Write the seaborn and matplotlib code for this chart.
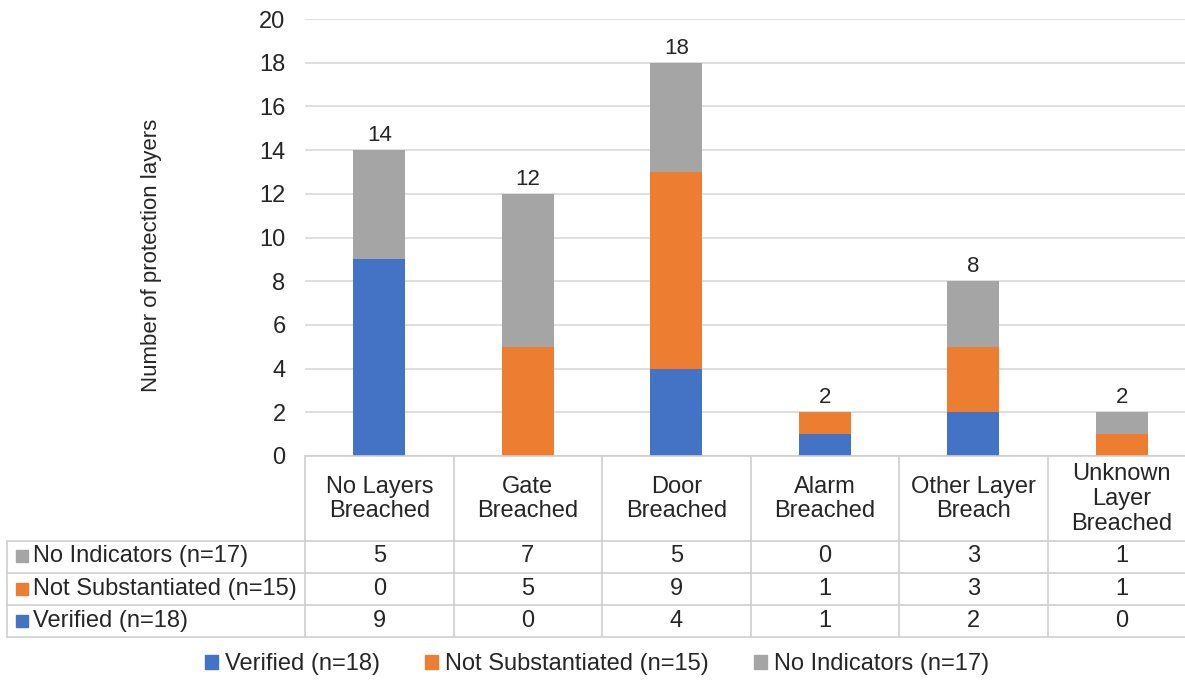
import matplotlib
matplotlib.use("Agg")
import matplotlib.pyplot as plt
import matplotlib.patches as mpatches
import matplotlib.transforms as mtransforms
from matplotlib.lines import Line2D
import pandas as pd
import seaborn as sns

categories = ["No Layers\nBreached", "Gate\nBreached", "Door\nBreached",
              "Alarm\nBreached", "Other Layer\nBreach", "Unknown\nLayer\nBreached"]
verified = [9, 0, 4, 1, 2, 0]
not_substantiated = [0, 5, 9, 1, 3, 1]
no_indicators = [5, 7, 5, 0, 3, 1]
series_names = ["Verified (n=18)", "Not Substantiated (n=15)", "No Indicators (n=17)"]
colors = ["#4472C4", "#ED7D31", "#A5A5A5"]
y_ticks = list(range(0, 21, 2))

W, H = 1185, 681

sns.set_style("white")
plt.rcParams['font.family'] = ['Liberation Sans', 'DejaVu Sans']
FS = 17
TXT = "#262626"
GRID = "#d9d9d9"

df = pd.DataFrame({"cat": categories, "v": verified, "ns": not_substantiated, "ni": no_indicators})
df["level2"] = df["v"] + df["ns"]
df["total"] = df["level2"] + df["ni"]

fig = plt.figure(figsize=(W / 100, H / 100), dpi=100)
ax = fig.add_axes([305 / W, (H - 456) / H, 891 / W, 437 / H])

# stacked bars drawn as cumulative heights, top layer first
for col, c in [("total", colors[2]), ("level2", colors[1]), ("v", colors[0])]:
    sns.barplot(data=df, x="cat", y=col, color=c, width=0.35, ax=ax,
                saturation=1, errorbar=None, order=categories, linewidth=0)

ax.set_xlim(-0.5, len(categories) - 0.5)
ax.set_ylim(0, 20)
ax.set_yticks(y_ticks)
ax.tick_params(axis="y", length=0, pad=14, labelsize=FS, colors=TXT)
ax.set_xticks([])
ax.set_xlabel("")
ax.set_ylabel("Number of protection layers", fontsize=FS - 1, color=TXT)
ax.yaxis.set_label_coords(-0.16, 0.46)
ax.grid(axis="y", color=GRID, lw=1.2)
ax.set_axisbelow(True)
for s in ax.spines.values():
    s.set_visible(False)

# totals above bars
for i, t in enumerate(df["total"]):
    ax.annotate(str(t), (i, t), xytext=(0, 3), textcoords="offset points",
                ha="center", va="bottom", fontsize=FS - 1, color=TXT)

# data table below the chart
def fy(y):
    return 1 - y / H

blend = mtransforms.blended_transform_factory(ax.transData, fig.transFigure)
row_lines = [541, 573, 605, 637]
table_col = "#cfcfcf"
xr = 1196 / W
fig.add_artist(Line2D([305 / W, xr], [fy(456)] * 2, color=table_col, lw=1.2))
for y in row_lines:
    fig.add_artist(Line2D([7 / W, xr], [fy(y)] * 2, color=table_col, lw=1.2))
fig.add_artist(Line2D([7 / W] * 2, [fy(541), fy(637)], color=table_col, lw=1.2))
for k in range(len(categories) + 1):
    xb = (305 + k * 148.5) / W
    fig.add_artist(Line2D([xb] * 2, [fy(456), fy(637)], color=table_col, lw=1.2))

for i, cat in enumerate(categories):
    fig.text(i, fy(499), cat, transform=blend, ha="center", va="center",
             fontsize=FS, color=TXT, linespacing=1.15)

row_vals = [no_indicators, not_substantiated, verified]
row_names = [series_names[2], series_names[1], series_names[0]]
row_cols = [colors[2], colors[1], colors[0]]
for r, y in enumerate([556, 589, 621]):
    fig.add_artist(mpatches.Rectangle((16 / W, fy(y) - 6 / H), 12 / W, 12 / H,
                                      color=row_cols[r], transform=fig.transFigure))
    fig.text(33 / W, fy(y), row_names[r], ha="left", va="center", fontsize=FS, color=TXT)
    for i, v in enumerate(row_vals[r]):
        fig.text(i, fy(y), str(v), transform=blend, ha="center", va="center",
                 fontsize=FS, color=TXT)

handles = [mpatches.Patch(color=c, label=n) for c, n in zip(colors, series_names)]
fig.legend(handles=handles, loc="center", bbox_to_anchor=(597 / W, fy(664)), ncol=3,
           frameon=False, fontsize=FS, handlelength=0.55, handleheight=0.55,
           handletextpad=0.3, columnspacing=1.9, labelcolor=TXT)

fig.savefig("out.png", dpi=100)
